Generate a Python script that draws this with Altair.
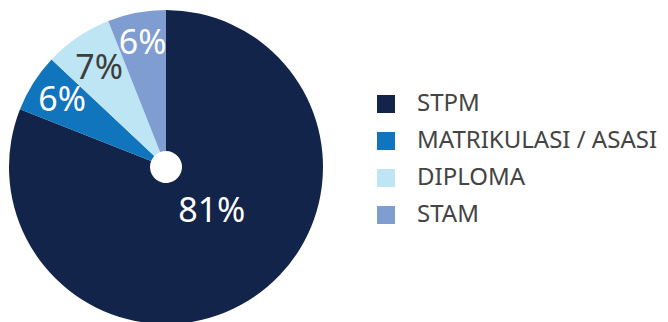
import altair as alt
import pandas as pd
import math

categories = ["STPM", "MATRIKULASI / ASASI", "DIPLOMA", "STAM"]
values = [81, 6, 7, 6]
labels = ["81%", "6%", "7%", "6%"]
colors = ["#12244a", "#1075bd", "#bde5f3", "#7f9dd1"]
label_colors = ["#ffffff", "#ffffff", "#3d3d3d", "#ffffff"]
label_radius = [64, 123, 119, 125]

df = pd.DataFrame({
    "category": categories,
    "value": values,
    "label": labels,
    "lc": label_colors,
    "lr": label_radius,
    "idx": list(range(len(categories))),
})

FONT = "Noto Sans"
CX, CY = 158, 159

arc = alt.Chart(df).mark_arc(innerRadius=16, outerRadius=157, strokeWidth=0).encode(
    theta=alt.Theta("value:Q", stack=True),
    order=alt.Order("idx:Q"),
    color=alt.Color(
        "category:N",
        scale=alt.Scale(domain=categories, range=colors),
        sort=categories,
        legend=alt.Legend(
            title=None,
            orient="none",
            legendX=366,
            legendY=84,
            symbolType="square",
            symbolSize=324,
            symbolStrokeWidth=0,
            labelFont=FONT,
            labelFontSize=24,
            labelColor="#444444",
            labelOffset=19,
            labelLimit=400,
            rowPadding=13,
        ),
    ),
    x=alt.value(CX),
    y=alt.value(CY),
)

text_base = (
    alt.Chart(df)
    .transform_window(cum="sum(value)", sort=[alt.SortField("idx")], frame=[None, 0])
    .transform_joinaggregate(total="sum(value)")
    .transform_calculate(mid="(datum.cum - datum.value / 2) / datum.total")
)

enc = dict(
    theta=alt.Theta("mid:Q", stack=None, scale=alt.Scale(domain=[0, 1], range=[0, 2 * math.pi])),
    radius=alt.Radius("lr:Q", scale=None),
    text=alt.Text("label:N"),
    color=alt.Color("lc:N", scale=None),
    x=alt.value(CX),
    y=alt.value(CY),
)

text_small = (
    text_base.transform_filter("datum.idx > 0")
    .mark_text(font=FONT, fontSize=34, align="center", baseline="middle")
    .encode(**enc)
)

text_big = (
    text_base.transform_filter("datum.idx == 0")
    .mark_text(font=FONT, fontSize=34, align="center", baseline="middle", thetaOffset=-0.2)
    .encode(**enc)
)

chart = (
    alt.layer(arc, text_small, text_big)
    .resolve_scale(theta="independent")
    .properties(width=652, height=314, padding=0, autosize=alt.AutoSizeParams(type="none"))
    .configure_view(strokeWidth=0)
)

chart.save("out.html", embed_options={"renderer": "svg", "actions": False})
